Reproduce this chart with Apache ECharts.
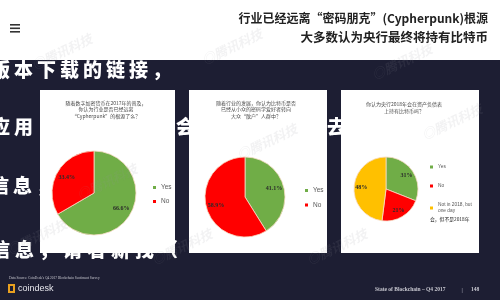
<!DOCTYPE html>
<html>
<head>
<meta charset="utf-8">
<script src="https://cdn.jsdelivr.net/npm/echarts@6/dist/echarts.min.js"></script>
<style>
  html, body { margin: 0; padding: 0; background: #1d1e33; }
  #chart { width: 500px; height: 300px; }
</style>
</head>
<body>
<div id="chart"></div>
<script>
// Survey answers, three questions
const answers1 = ['Yes', 'No'];
const values1 = [66.6, 33.4];
const answers2 = ['Yes', 'No'];
const values2 = [41.1, 58.9];
const answers3 = ['Yes', 'No', 'Not in 2018, but\none day'];
const values3 = [31, 21, 48];
const labels1 = ['66.6%', '33.4%'];
const labels2 = ['41.1%', '58.9%'];
const labels3 = ['31%', '21%', '48%'];

const question1 = ['随着数字加密货币在2017年的普及，', '你认为行业是否已经远离', '“Cypherpunk”的根源了么？'];
const question2 = ['随着行业的发展，你认为比特币是否', '已经从小众的密码学爱好者转向', '大众“散户”人群中？'];
const question3 = ['你认为央行2018年会在资产负债表', '上持有比特币吗？'];

const headline = ['行业已经远离“密码朋克”(Cypherpunk)根源', '大多数认为央行最终将持有比特币'];

const colorMap = { 'Yes': '#70ad47', 'No': '#ff0000' };
colorMap[answers3[2]] = '#ffc000';

function toData(names, vals, labs) {
  return names.map((n, i) => ({ name: n, value: vals[i], labelText: labs[i],
    itemStyle: { color: colorMap[n] } }));
}

function pieSeries(names, vals, labs, center, r) {
  const data = toData(names, vals, labs);
  return [
    {
      type: 'pie', center: center, radius: [0, r], startAngle: 90,
      clockwise: true, silent: true, z: 3,
      itemStyle: { borderColor: '#f6dcc4', borderWidth: 0.8 },
      label: { show: false }, labelLine: { show: false },
      emphasis: { disabled: true },
      data: data
    },
    {
      // label ring: transparent slices that carry the percentage labels
      type: 'pie', center: center, radius: [r * 0.36, r], startAngle: 90,
      clockwise: true, silent: true, z: 4,
      itemStyle: { color: 'rgba(0,0,0,0)' },
      label: {
        show: true, position: 'inside',
        formatter: p => p.data.labelText,
        fontFamily: 'Liberation Serif', fontWeight: 'bold', fontSize: 6, color: '#2a2a2a'
      },
      labelLine: { show: false },
      emphasis: { disabled: true },
      data: data.map(d => ({ name: d.name, value: d.value, labelText: d.labelText,
        itemStyle: { color: 'rgba(0,0,0,0)' } }))
    }
  ];
}

function legend(names, left, top, gap, size, lh) {
  return {
    data: names, orient: 'vertical', left: left, top: top, itemGap: gap, padding: 0,
    icon: 'rect', itemWidth: 3, itemHeight: 3, selectedMode: false, z: 5,
    itemStyle: { borderWidth: 0 },
    textStyle: { fontSize: size, color: '#595959', fontFamily: 'Liberation Sans', lineHeight: lh }
  };
}

function questionText(lines, cx, y0) {
  return lines.map((t, i) => ({
    type: 'text', z: 2,
    style: { text: t, x: cx, y: y0 + i * 6.5, align: 'center', verticalAlign: 'middle',
      fontSize: 5, fill: '#4a4a4a', fontFamily: 'Noto Sans CJK SC' }
  }));
}

// brush-style caption characters, set at a fixed pitch
function brushRow(str, x0, y, pitch) {
  return Array.from(str).map((ch, i) => ({ type: 'text', z: 0,
    style: { text: ch, x: x0 + i * pitch, y: y, verticalAlign: 'middle', fontSize: 19,
      fontWeight: 900, fill: '#ffffff', fontFamily: 'Noto Sans CJK SC' } }));
}

function watermark(x, y) {
  return { type: 'text', z: 6, x: x, y: y, rotation: Math.PI / 7,
    style: { text: '◎腾讯科技', fontSize: 13, fontWeight: 'bold', fontStyle: 'italic',
      fill: 'rgba(150,150,160,0.12)', fontFamily: 'Noto Sans CJK SC' } };
}

const chart = echarts.init(document.getElementById('chart'));
chart.setOption({
  backgroundColor: '#1d1e33',
  animation: false,
  legend: [
    legend(answers1, 153, 184, 7, 6.5, 6.5),
    legend(answers2, 305, 187, 7.5, 6.5, 6.5),
    legend(answers3, 430, 164, 13, 4.8, 6)
  ],
  series: [
    ...pieSeries(answers1, values1, labels1, [94, 193], 42),
    ...pieSeries(answers2, values2, labels2, [245, 197], 40),
    ...pieSeries(answers3, values3, labels3, [386, 189], 32)
  ],
  graphic: [
    // overlaid brush-style caption, partly hidden by the panels
    ...brushRow('版本下载的链接，', -9, 70, 23),
    ...brushRow('应用', -9, 127, 23),
    ...brushRow('会', 176, 127, 23),
    ...brushRow('去', 327, 127, 23),
    ...brushRow('信息，', -10, 186, 23),
    ...brushRow('信息，请看新找（', -9, 250, 24),
    // header band
    { type: 'rect', z: 1, shape: { x: 0, y: 0, width: 500, height: 60 }, style: { fill: '#ffffff' } },
    { type: 'rect', z: 2, shape: { x: 10, y: 24, width: 10, height: 1.6 }, style: { fill: '#333' } },
    { type: 'rect', z: 2, shape: { x: 10, y: 27.5, width: 10, height: 1.6 }, style: { fill: '#333' } },
    { type: 'rect', z: 2, shape: { x: 10, y: 31, width: 10, height: 1.6 }, style: { fill: '#333' } },
    { type: 'text', z: 2, style: { text: headline[0], x: 488, y: 18, align: 'right', verticalAlign: 'middle',
      fontSize: 12, fontWeight: 'bold', fill: '#222', fontFamily: 'Noto Sans CJK SC' } },
    { type: 'text', z: 2, style: { text: headline[1], x: 488, y: 37, align: 'right', verticalAlign: 'middle',
      fontSize: 12.5, fontWeight: 'bold', fill: '#222', fontFamily: 'Noto Sans CJK SC' } },
    // white panels
    { type: 'rect', z: 1, shape: { x: 40, y: 90, width: 135, height: 163 }, style: { fill: '#ffffff' } },
    { type: 'rect', z: 1, shape: { x: 189, y: 90, width: 138, height: 163 }, style: { fill: '#ffffff' } },
    { type: 'rect', z: 1, shape: { x: 341, y: 90, width: 138, height: 163 }, style: { fill: '#ffffff' } },
    ...questionText(question1, 106, 103),
    ...questionText(question2, 256, 103),
    ...questionText(question3, 404, 104.5),
    { type: 'text', z: 5, style: { text: '会，但不是2018年', x: 430, y: 219.5, verticalAlign: 'middle',
      fontSize: 4.8, fill: '#222', fontFamily: 'Noto Sans CJK SC' } },
    // footer
    { type: 'text', z: 2, style: { text: 'Data Source: CoinDesk\'s Q4 2017 Blockchain Sentiment Survey', x: 9, y: 278,
      verticalAlign: 'middle', fontSize: 3.5, fill: '#c8c8d0', fontFamily: 'Liberation Serif' } },
    { type: 'rect', z: 2, shape: { x: 8, y: 284, width: 7, height: 9 }, style: { fill: '#e8a020' } },
    { type: 'rect', z: 2, shape: { x: 10, y: 286, width: 3, height: 5 }, style: { fill: '#1d1e33' } },
    { type: 'text', z: 2, style: { text: 'coindesk', x: 18, y: 289, verticalAlign: 'middle',
      fontSize: 9, fill: '#e6e6ec', fontFamily: 'Liberation Sans' } },
    { type: 'text', z: 2, style: { text: 'State of Blockchain – Q4 2017', x: 375, y: 290, verticalAlign: 'middle',
      fontSize: 5.5, fontWeight: 'bold', fill: '#c8c8d0', fontFamily: 'Liberation Serif' } },
    { type: 'text', z: 2, style: { text: '|', x: 462, y: 290, verticalAlign: 'middle', align: 'center',
      fontSize: 6, fill: '#c8c8d0', fontFamily: 'Liberation Serif' } },
    { type: 'text', z: 2, style: { text: '148', x: 471, y: 290, verticalAlign: 'middle',
      fontSize: 5.5, fontWeight: 'bold', fill: '#c8c8d0', fontFamily: 'Liberation Serif' } },
    // faint watermarks
    watermark(30, 60), watermark(200, 55), watermark(370, 70),
    watermark(75, 190), watermark(235, 150), watermark(420, 130),
    watermark(5, 245), watermark(150, 255), watermark(305, 255)
  ]
});
</script>
</body>
</html>
